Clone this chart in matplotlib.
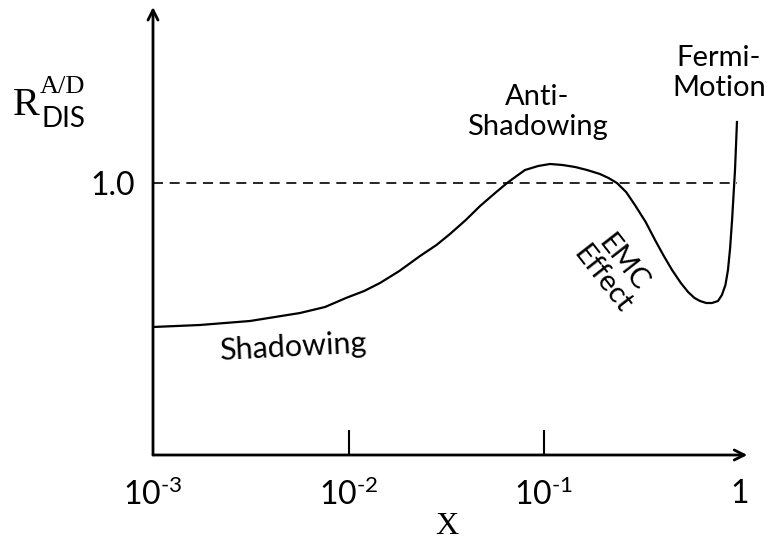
import numpy as np
import matplotlib
matplotlib.use("Agg")
import matplotlib.pyplot as plt

plt.rcParams['font.family'] = ['Lato', 'DejaVu Sans']
plt.rcParams['mathtext.fontset'] = 'custom'
plt.rcParams['mathtext.rm'] = 'Lato'
plt.rcParams['mathtext.it'] = 'Lato:italic'

# curve: log10(x) and ratio R
log_x = [-3.000, -2.760, -2.504, -2.248, -2.120, -2.013, -1.920, -1.839, -1.740,
         -1.634, -1.550, -1.481, -1.400, -1.327, -1.250, -1.189, -1.140, -1.097,
         -1.030, -0.969, -0.905, -0.841, -0.780, -0.714, -0.670, -0.627, -0.580,
         -0.535, -0.480, -0.432, -0.390, -0.345, -0.300, -0.263, -0.230, -0.202,
         -0.170, -0.141, -0.110, -0.090, -0.072, -0.059, -0.048, -0.038, -0.023,
         -0.013]
ratio = [0.856, 0.858, 0.862, 0.870, 0.876, 0.885, 0.892, 0.900, 0.912,
         0.927, 0.938, 0.949, 0.963, 0.977, 0.990, 1.000, 1.007, 1.013,
         1.017, 1.019, 1.018, 1.016, 1.013, 1.009, 1.005, 1.000, 0.991,
         0.978, 0.961, 0.943, 0.928, 0.913, 0.900, 0.891, 0.885, 0.882,
         0.880, 0.880, 0.882, 0.888, 0.898, 0.913, 0.935, 0.963, 1.013,
         1.061]

tick_pos = [1e-3, 1e-2, 1e-1, 1]
tick_labels = [r'$10^{\text{-3}}$', r'$10^{\text{-2}}$', r'$10^{\text{-1}}$', '1']

fig = plt.figure(figsize=(7.71, 5.42), dpi=100)
ax = fig.add_axes([153 / 771, 87 / 542, (771 - 153) / 771, 455 / 542])
ax.set_xscale('log')
ax.set_xlim(1e-3, 10 ** 0.1611)
ax.set_ylim(0.728, 1.183)
for s in ax.spines.values():
    s.set_visible(False)

# axes with arrows
ax.annotate('', xy=(10 ** 0.04, 0.728), xytext=(1e-3, 0.728),
            arrowprops=dict(arrowstyle='->', lw=2, color='black', mutation_scale=18,
                            shrinkA=0, shrinkB=0))
ax.annotate('', xy=(1e-3, 1.176), xytext=(1e-3, 0.728),
            arrowprops=dict(arrowstyle='->', lw=2, color='black', mutation_scale=18,
                            shrinkA=0, shrinkB=0))

# small tick marks at 10^-2 and 10^-1
ax.vlines([1e-2, 1e-1], 0.728, 0.753, color='black', lw=1.5)

ax.set_xticks(tick_pos)
ax.set_xticklabels(tick_labels)
ax.minorticks_off()
ax.set_yticks([1.0])
ax.set_yticklabels(['1.0'])
ax.tick_params(axis='x', length=0, pad=17, labelsize=23)
ax.tick_params(axis='y', length=0, pad=13, labelsize=23)

# reference line
ax.plot([1e-3, 10 ** -0.013], [1.0, 1.0], color='black', lw=1.2,
        linestyle=(0, (6, 4)))

# the curve
ax.plot(10 ** np.array(log_x), ratio, color='black', lw=1.6)

# labels on the curve
ax.text(10 ** -2.284, 0.836, 'Shadowing', fontsize=22, ha='center', va='center',
        rotation=3)
ax.text(10 ** -1.036, 1.071, 'Anti-\nShadowing', fontsize=21, ha='center', va='center',
        linespacing=1.15)
ax.text(10 ** -0.105, 1.110, 'Fermi-\nMotion', fontsize=21, ha='center', va='center',
        linespacing=1.15)
ax.text(10 ** -0.650, 0.912, 'EMC\nEffect', fontsize=21, ha='center', va='center',
        rotation=-52, linespacing=1.0)

# axis titles
fig.text(447 / 771, 1 - 527 / 542, 'X', family='Liberation Serif', fontsize=23,
         ha='center', va='center')
fig.text(13 / 771, 1 - 115 / 542, 'R', family='Liberation Serif', fontsize=29,
         ha='left', va='baseline')
fig.text(40 / 771, 1 - 93 / 542, 'A/D', family='Liberation Serif', fontsize=19,
         ha='left', va='baseline')
fig.text(41 / 771, 1 - 127 / 542, 'DIS', fontsize=20, ha='left', va='baseline')

fig.savefig('out.png', dpi=100)
